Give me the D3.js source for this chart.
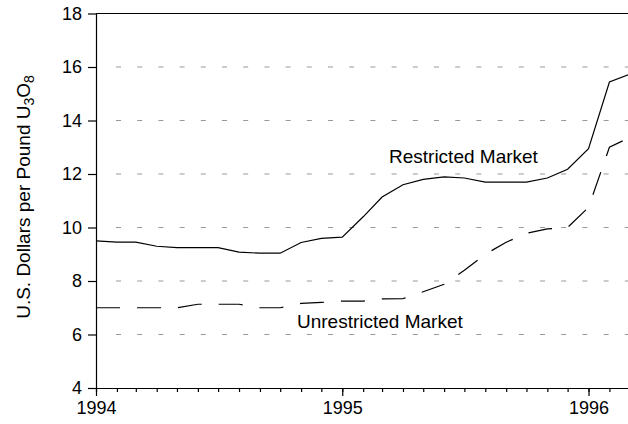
<!DOCTYPE html>
<html>
<head>
<meta charset="utf-8">
<script src="https://cdn.jsdelivr.net/npm/d3@7"></script>
<style>
  body { margin: 0; background: #fff; }
  svg { display: block; font-family: "Liberation Sans", Arial, sans-serif; }
  .axis path, .axis line { stroke: #000; stroke-width: 1.2; }
  .axis text { font-size: 18px; fill: #000; }
  .grid { stroke: #999; stroke-width: 1; stroke-dasharray: 5,16.2; }
  .label { font-size: 19px; fill: #000; }
</style>
</head>
<body>
<svg id="chart"></svg>
<script>
// monthly observations, Jan 1994 - Mar 1996
const months = [
  "1994-01","1994-02","1994-03","1994-04","1994-05","1994-06","1994-07","1994-08","1994-09","1994-10","1994-11","1994-12",
  "1995-01","1995-02","1995-03","1995-04","1995-05","1995-06","1995-07","1995-08","1995-09","1995-10","1995-11","1995-12",
  "1996-01","1996-02","1996-03"
];
const restricted = [
  9.5, 9.45, 9.45, 9.3, 9.25, 9.25, 9.25, 9.08, 9.04, 9.04, 9.44, 9.59,
  9.64, 10.4, 11.14, 11.6, 11.8, 11.89, 11.85, 11.7, 11.7, 11.7, 11.85, 12.18,
  12.95, 15.44, 15.72
];
const unrestricted = [
  7.0, 7.0, 7.0, 7.0, 7.0, 7.13, 7.13, 7.13, 7.0, 7.0, 7.16, 7.2,
  7.25, 7.25, 7.33, 7.34, 7.6, 7.88, 8.4, 9.0, 9.45, 9.78, 9.95, 10.0,
  10.75, 13.0, 13.35
];
const yTicks = [4, 6, 8, 10, 12, 14, 16, 18];
const yearTicks = ["1994", "1995", "1996"];

class PriceChart {
  constructor(_config) {
    this.config = {
      parentElement: _config.parentElement,
      containerWidth: _config.containerWidth || 628,
      containerHeight: _config.containerHeight || 424,
      margin: _config.margin || {top: 13.5, right: 0, bottom: 36, left: 96}
    }
    this.initVis();
  }

  initVis() {
    let vis = this;
    const parse = d3.timeParse("%Y-%m");

    vis.width = vis.config.containerWidth - vis.config.margin.left - vis.config.margin.right;
    vis.height = vis.config.containerHeight - vis.config.margin.top - vis.config.margin.bottom;

    vis.data = months.map((m, i) => ({date: parse(m), r: restricted[i], u: unrestricted[i]}));

    vis.xScale = d3.scaleTime()
      .domain([parse(months[0]), parse(months[months.length - 1])])
      .range([0, vis.width + 1]);

    vis.yScale = d3.scaleLinear()
      .domain([4, 18])
      .range([vis.height, 0]);

    vis.svg = d3.select(vis.config.parentElement)
      .attr("width", vis.config.containerWidth)
      .attr("height", vis.config.containerHeight);

    vis.chart = vis.svg.append("g")
      .attr("transform", `translate(${vis.config.margin.left},${vis.config.margin.top})`);

    vis.renderVis();
  }

  renderVis() {
    let vis = this;

    // dashed grid lines (top one is solid frame)
    vis.chart.selectAll(".grid")
      .data(yTicks.filter(d => d > 4 && d < 18))
      .join("line")
        .attr("class", "grid")
        .attr("x1", 20)
        .attr("x2", vis.width)
        .attr("y1", d => vis.yScale(d))
        .attr("y2", d => vis.yScale(d));

    vis.chart.append("line")
      .attr("x1", 0)
      .attr("x2", vis.width)
      .attr("y1", vis.yScale(18))
      .attr("y2", vis.yScale(18))
      .attr("stroke", "#000")
      .attr("stroke-width", 1.2);

    // minor month ticks
    const xMinor = d3.axisBottom(vis.xScale)
      .ticks(d3.timeMonth.every(1))
      .tickSize(4)
      .tickSizeOuter(0)
      .tickFormat("");
    vis.chart.append("g")
      .attr("class", "axis x-axis")
      .attr("transform", `translate(0,${vis.height})`)
      .call(xMinor);

    const xMajor = d3.axisBottom(vis.xScale)
      .tickValues(yearTicks.map(d => d3.timeParse("%Y")(d)))
      .tickSize(8)
      .tickPadding(5)
      .tickFormat(d3.timeFormat("%Y"));
    vis.chart.append("g")
      .attr("class", "axis x-axis")
      .attr("transform", `translate(0,${vis.height})`)
      .call(xMajor)
      .call(g => g.select(".domain").remove());

    const yAxis = d3.axisLeft(vis.yScale)
      .tickValues(yTicks)
      .tickSize(8)
      .tickPadding(6)
      .tickSizeOuter(0);
    vis.chart.append("g")
      .attr("class", "axis y-axis")
      .call(yAxis);

    // lines
    const lineR = d3.line().x(d => vis.xScale(d.date)).y(d => vis.yScale(d.r));
    const lineU = d3.line().x(d => vis.xScale(d.date)).y(d => vis.yScale(d.u));

    vis.chart.append("path")
      .datum(vis.data)
      .attr("fill", "none")
      .attr("stroke", "#000")
      .attr("stroke-width", 1.2)
      .attr("d", lineR);

    vis.chart.append("path")
      .datum(vis.data)
      .attr("fill", "none")
      .attr("stroke", "#000")
      .attr("stroke-width", 1.2)
      .attr("stroke-dasharray", "24,17")
      .attr("d", lineU);

    // series labels
    vis.svg.append("text")
      .attr("class", "label")
      .attr("x", 389)
      .attr("y", 163)
      .text("Restricted Market");

    vis.svg.append("text")
      .attr("class", "label")
      .attr("x", 297)
      .attr("y", 328)
      .text("Unrestricted Market");

    // y axis title with subscripts
    const title = vis.svg.append("text")
      .attr("class", "label")
      .attr("text-anchor", "middle")
      .attr("transform", "translate(30,197) rotate(-90)");
    title.append("tspan").text("U.S. Dollars per Pound U");
    title.append("tspan").attr("dy", 4).style("font-size", "14px").text("3");
    title.append("tspan").attr("dy", -4).text("O");
    title.append("tspan").attr("dy", 4).style("font-size", "14px").text("8");
  }
}

new PriceChart({parentElement: "#chart"});
</script>
</body>
</html>
